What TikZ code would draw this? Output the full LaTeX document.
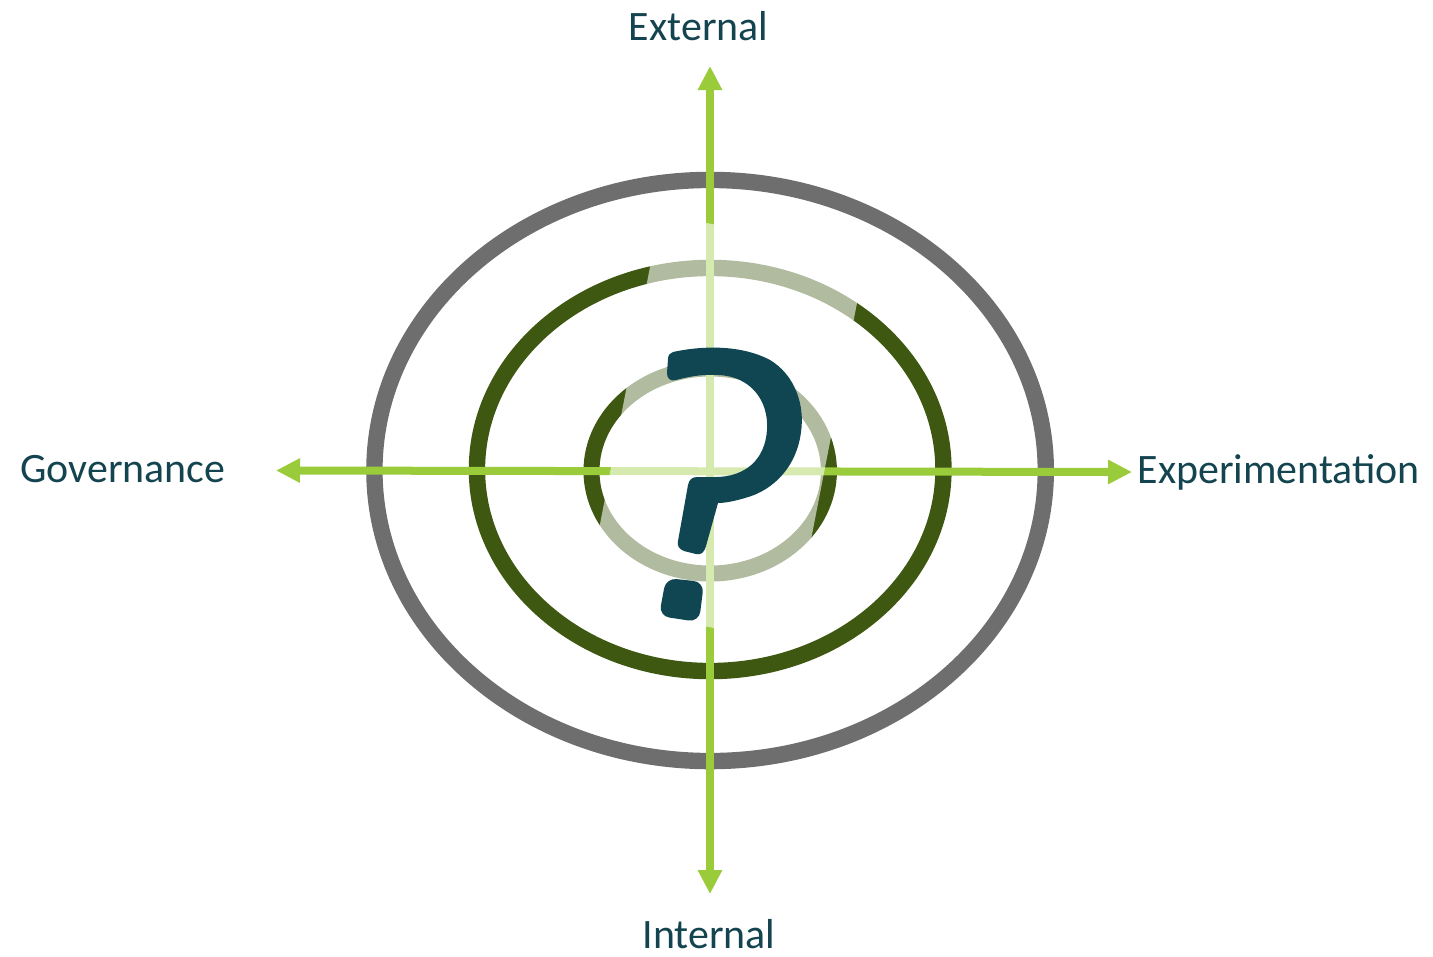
\documentclass[tikz,border=0pt]{standalone}
\usepackage{fontspec}
\setmainfont{Carlito}
\usetikzlibrary{arrows.meta}
\definecolor{ringgray}{HTML}{6E6E6E}
\definecolor{ringgreen}{HTML}{3E5711}
\definecolor{axisgreen}{HTML}{9ACB3A}
\definecolor{qmcolor}{HTML}{0F4652}
\definecolor{txtcolor}{HTML}{13444F}
\tikzset{
  ring/.style={line width=0.41cm},
  axis/.style={draw=axisgreen, line width=0.2cm, {Triangle[length=0.6cm,width=0.575cm]}-{Triangle[length=0.6cm,width=0.575cm]}},
  lbl/.style={text=txtcolor, inner sep=0pt, font=\fontsize{29.8}{36}\selectfont, anchor=base},
  veil/.style={fill=white, fill opacity=0.6},
  qm/.style={fill=qmcolor}
}
\begin{document}
\begin{tikzpicture}[x=0.025cm,y=-0.025cm]
\useasboundingbox (0,0) rectangle (1433,956);
% rings
\draw[ring, draw=ringgray] (710.1,470.5) ellipse [x radius=8.39cm, y radius=7.2625cm];
\draw[ring, draw=ringgreen] (710.2,469.5) ellipse [x radius=5.83cm, y radius=5.0375cm];
\draw[ring, draw=ringgreen, line width=0.4cm] (710.2,471) ellipse [x radius=2.9675cm, y radius=2.5625cm];
% axes
\coordinate (top) at (710,66);
\coordinate (bot) at (710,894);
\coordinate (lft) at (276,470.5);
\coordinate (rgt) at (1132,472);
\draw[axis] (top) -- (bot);
\draw[axis] (lft) -- (rgt);
% translucent veil behind the question mark
\fill[veil] (660.3,214.0) -- (866.5,254.2) -- (790.9,643.0) -- (584.7,602.8) -- cycle;
% question mark
\fill[qm] (673,352)
 .. controls (700,346) and (740,344) .. (770,360)
 .. controls (795,375) and (805,405) .. (801,432)
 .. controls (797,465) and (775,490) .. (745,498)
 .. controls (735,501) and (725,503) .. (718,503)
 -- (706,546)
 .. controls (704,553) and (701,555) .. (696,554)
 -- (684,551)
 .. controls (679,549) and (677,546) .. (678,541)
 -- (688,485)
 .. controls (689,480) and (692,477) .. (697,477)
 -- (715,477)
 .. controls (745,477) and (765,460) .. (767,430)
 .. controls (769,400) and (750,376) .. (718,375)
 .. controls (700,374) and (688,377) .. (676,380)
 .. controls (670,382) and (667,378) .. (667,373)
 -- (668,359)
 .. controls (668,355) and (670,353) .. (673,352) -- cycle;
\fill[qm, rounded corners=0.26cm] (666,578) -- (704,582) -- (699,622) -- (659,616) -- cycle;
% labels
\node[lbl] (ext) at (698.7,40) {External};
\node[lbl] (int) at (709,948.3) {Internal};
\node[lbl] (gov) at (123,482.3) {Governance};
\node[lbl, anchor=base west] (expt) at (1137.3,483.3) {Experimentation};
\end{tikzpicture}
\end{document}
